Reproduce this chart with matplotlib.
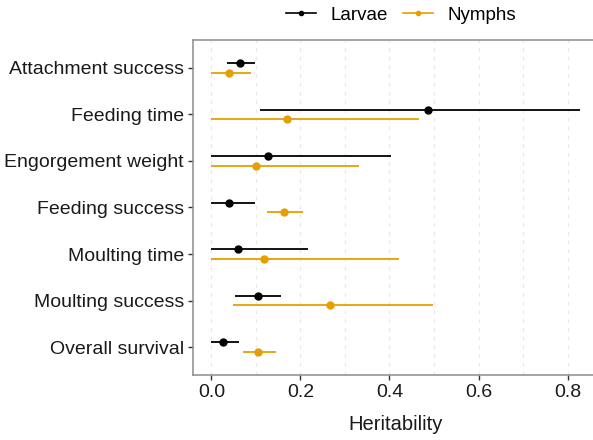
import numpy as np
import matplotlib.pyplot as plt
from matplotlib.lines import Line2D

plt.rcParams['font.family'] = ['Liberation Sans', 'DejaVu Sans']

traits = ['Attachment success', 'Feeding time', 'Engorgement weight', 'Feeding success',
          'Moulting time', 'Moulting success', 'Overall survival']

# heritability estimates with lower / upper interval bounds
larvae_est = [0.065, 0.487, 0.128, 0.039, 0.059, 0.105, 0.027]
larvae_lo = [0.034, 0.109, 0.0, 0.0, 0.0, 0.054, 0.0]
larvae_hi = [0.099, 0.827, 0.404, 0.099, 0.218, 0.157, 0.063]

nymph_est = [0.040, 0.170, 0.100, 0.163, 0.119, 0.266, 0.105]
nymph_lo = [0.0, 0.0, 0.0, 0.124, 0.0, 0.048, 0.071]
nymph_hi = [0.090, 0.467, 0.331, 0.205, 0.421, 0.498, 0.144]

BLACK, ORANGE = '#000000', '#E69F00'

fig = plt.figure(figsize=(5.93, 4.4), dpi=100)
ax = fig.add_axes([193/593, 65/440, 405/593, 335/440])

ypos = np.arange(len(traits))[::-1]
off = 0.1
for est, lo, hi, color, dy in [(larvae_est, larvae_lo, larvae_hi, BLACK, off),
                               (nymph_est, nymph_lo, nymph_hi, ORANGE, -off)]:
    y = ypos + dy
    ax.hlines(y, lo, hi, color=color, linewidth=1.3, zorder=3)
    ax.plot(est, y, 'o', color=color, markersize=5, zorder=4)

ax.set_yticks(ypos)
ax.set_yticklabels(traits)
ax.set_ylim(-0.6, len(traits) - 0.4)
ax.set_xlim(-0.0414, 0.8684)
ax.set_xticks([0.0, 0.2, 0.4, 0.6, 0.8])
ax.set_xticklabels(['0.0', '0.2', '0.4', '0.6', '0.8'])
ax.set_xticks([0.1, 0.3, 0.5, 0.7], minor=True)
ax.tick_params(axis='x', which='minor', length=0)
ax.set_xlabel('Heritability', fontsize=14.5, color='#1a1a1a', labelpad=10)

ax.tick_params(axis='both', which='major', labelsize=14, labelcolor='#1a1a1a',
               color='#333333', length=3.5, width=1, pad=3)
ax.grid(True, axis='x', which='both', color='#e8e8e8', linestyle=(0, (3, 4)), linewidth=0.9)
ax.set_axisbelow(True)
for s in ax.spines.values():
    s.set_color('#8c8c8c')
    s.set_linewidth(1.1)

handles = [Line2D([], [], color=BLACK, marker='o', markersize=3, linewidth=1.2, label='Larvae'),
           Line2D([], [], color=ORANGE, marker='o', markersize=3, linewidth=1.2, label='Nymphs')]
fig.legend(handles=handles, loc='center', bbox_to_anchor=(401/593, 1 - 15/440), ncol=2,
           frameon=False, fontsize=13.5, handlelength=1.6, columnspacing=0.8, handletextpad=0.8)

fig.savefig('out.png', dpi=100)
